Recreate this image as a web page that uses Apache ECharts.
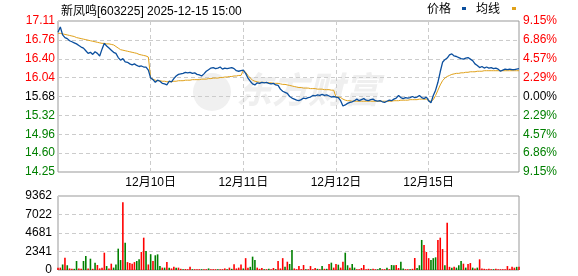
<!DOCTYPE html>
<html>
<head>
<meta charset="utf-8">
<style>
html,body{margin:0;padding:0;background:#fff;}
#chart{width:578px;height:276px;}
</style>
<script src="https://cdn.jsdelivr.net/npm/echarts@6/dist/echarts.min.js"></script>
</head>
<body>
<div id="chart"></div>
<script>
// ---- data ----
const title = '新凤鸣[603225] 2025-12-15 15:00';
const days = ['12月09日', '12月10日', '12月11日', '12月12日', '12月15日'];
const pointsPerDay = 40;
const priceTicks = ['14.25', '14.60', '14.96', '15.32', '15.68', '16.04', '16.40', '16.76', '17.11'];
const pctTicks = ['9.15%', '6.86%', '4.57%', '2.29%', '0.00%', '2.29%', '4.57%', '6.86%', '9.15%'];
const priceMin = 14.2452, priceMax = 17.1148;
const volMax = 9362;

const price = [
  16.90,17.00,16.85,16.80,16.78,16.74,16.72,16.70,16.68,16.65,16.62,16.60,16.55,16.50,16.52,16.48,16.53,16.50,16.45,16.58,
  16.69,16.64,16.60,16.56,16.52,16.50,16.42,16.37,16.40,16.34,16.33,16.30,16.28,16.30,16.27,16.25,16.26,16.24,16.24,16.18,
  16.03,16.00,15.95,15.99,15.97,15.93,15.92,15.90,15.97,15.96,16.02,16.07,16.10,16.11,16.12,16.14,16.13,16.14,16.12,16.13,
  16.10,16.09,16.07,16.11,16.16,16.19,16.22,16.23,16.21,16.22,16.24,16.20,16.22,16.21,16.22,16.23,16.21,16.17,16.16,16.17,
  16.18,16.12,16.03,15.97,15.92,15.90,15.94,15.93,15.95,15.94,15.95,15.93,15.92,15.93,15.90,15.89,15.82,15.78,15.76,15.74,
  15.68,15.65,15.63,15.61,15.60,15.62,15.65,15.64,15.66,15.67,15.70,15.69,15.71,15.70,15.72,15.70,15.71,15.69,15.67,15.68,
  15.67,15.66,15.60,15.50,15.52,15.55,15.57,15.58,15.60,15.63,15.60,15.62,15.64,15.61,15.60,15.62,15.63,15.60,15.59,15.60,
  15.58,15.57,15.59,15.61,15.60,15.63,15.65,15.70,15.66,15.64,15.66,15.65,15.66,15.68,15.66,15.67,15.70,15.66,15.64,15.67,
  15.60,15.56,15.70,15.80,15.95,16.15,16.33,16.38,16.41,16.47,16.49,16.45,16.44,16.42,16.40,16.39,16.41,16.42,16.39,16.36,
  16.30,16.27,16.23,16.25,16.22,16.24,16.22,16.23,16.21,16.22,16.20,16.16,16.18,16.20,16.19,16.20,16.19,16.19,16.20,16.21
];

const avgPrice = [
  16.88,16.88,16.87,16.86,16.85,16.84,16.83,16.82,16.80,16.79,16.78,16.77,16.76,16.75,16.74,16.73,16.72,16.71,16.70,16.69,
  16.69,16.68,16.68,16.67,16.66,16.63,16.60,16.57,16.56,16.55,16.54,16.53,16.52,16.51,16.50,16.48,16.47,16.46,16.45,16.43,
  16.03,16.01,15.99,15.98,15.98,15.97,15.97,15.96,15.96,15.96,15.97,15.97,15.98,15.98,15.98,15.99,15.99,15.99,16.00,16.00,
  16.00,16.00,16.01,16.01,16.01,16.02,16.02,16.03,16.03,16.03,16.04,16.04,16.05,16.05,16.06,16.06,16.07,16.07,16.08,16.08,
  16.18,16.14,16.08,16.03,15.99,15.97,15.96,15.95,15.95,15.95,15.94,15.94,15.94,15.93,15.93,15.93,15.92,15.91,15.91,15.90,
  15.89,15.88,15.87,15.86,15.85,15.85,15.84,15.84,15.84,15.83,15.83,15.83,15.82,15.82,15.82,15.81,15.81,15.81,15.80,15.80,
  15.67,15.67,15.66,15.63,15.61,15.60,15.60,15.59,15.59,15.59,15.59,15.59,15.59,15.59,15.59,15.59,15.59,15.59,15.59,15.59,
  15.59,15.59,15.59,15.59,15.59,15.60,15.60,15.60,15.61,15.61,15.61,15.61,15.62,15.62,15.62,15.62,15.63,15.63,15.63,15.63,
  15.60,15.59,15.62,15.70,15.80,15.90,15.98,16.03,16.06,16.08,16.10,16.11,16.12,16.12,16.13,16.13,16.14,16.14,16.15,16.15,
  16.15,16.16,16.16,16.16,16.17,16.17,16.17,16.17,16.17,16.17,16.17,16.17,16.17,16.17,16.17,16.17,16.17,16.17,16.17,16.17
];

const volume = [
  300,300,700,1560,600,200,150,150,1140,200,150,1140,1770,200,1430,150,930,630,200,300,
  2190,500,200,800,300,700,2700,1260,8560,3460,1000,900,800,1000,1140,1350,2280,4090,2400,700,
  2000,1140,1860,1980,500,300,300,1000,300,200,400,300,300,150,100,120,100,400,100,100,
  100,100,100,100,100,200,100,100,100,100,100,100,200,100,300,150,720,200,300,700,
  200,1500,300,400,1690,1260,300,150,250,100,100,150,100,250,100,1140,200,1500,400,1050,
  760,2530,200,100,500,100,630,100,100,500,100,250,150,100,500,150,150,760,930,300,
  760,670,300,1050,2190,600,300,760,300,100,100,250,630,100,150,100,150,100,100,250,
  100,100,300,100,630,600,630,250,1050,200,100,100,100,150,1520,250,600,3800,3160,2280,
  1500,1260,1500,1600,3800,4090,2650,600,5990,400,300,400,300,600,1140,800,300,760,880,300,
  200,300,1350,200,150,100,150,100,100,150,100,100,100,100,500,150,400,300,400,400
];

// r = red (up) bar, g = green (down) bar
const volDir = (
  'rrgrgrrggrrggrgrgrrr' + 'rgrrggggrgrrrrggrrgr' +
  'grgggrgrgrrgrrgrrrgr' + 'rrgrrgrrrgrrrgrgrrrr' +
  'grrgggrrrgrgrrgrrrgr' + 'ggrrrrrgrrrrgrgrgrgr' +
  'rgrrggrggrrrrrrgrrgg' + 'rrgrggrrggrrgrrgggrr' +
  'rgggrrrgrrgrgggrgrrg' + 'rgrrrrrrgrrrrrrrrrgr'
).split('');

// ---- built from the arrays above ----
const categories = [];
days.forEach(d => { for (let k = 0; k < pointsPerDay; k++) categories.push(d + '#' + k); });

const RED = '#ff0000', GREEN = '#008000';
const labelFont = 'Liberation Sans, Arial, Noto Sans CJK SC, sans-serif';

function leftColor(i) { return i > 4 ? RED : (i === 4 ? '#000' : GREEN); }

const chart = echarts.init(document.getElementById('chart'), null, { renderer: 'canvas' });

const option = {
  animation: false,
  backgroundColor: '#fff',
  title: {
    text: title, left: 56, top: 1,
    textStyle: { fontSize: 12, fontWeight: 'normal', color: '#000', fontFamily: labelFont }
  },
  graphic: [
    // watermark
    { type: 'circle', shape: { cx: 212, cy: 92, r: 19 }, style: { fill: '#f0f0f0' }, z: 0, silent: true },
    { type: 'text', left: 236, top: 71, z: 0, silent: true,
      style: { text: '东方财富', fill: '#efefef', font: 'italic bold 36px "Noto Sans CJK SC"' } },
    // legend
    { type: 'text', left: 427, top: 2, style: { text: '价格', fill: '#000', font: '12px "Noto Sans CJK SC"' } },
    { type: 'rect', shape: { x: 462, y: 7, width: 4, height: 3 }, style: { fill: '#0b4f9e' } },
    { type: 'text', left: 476, top: 2, style: { text: '均线', fill: '#000', font: '12px "Noto Sans CJK SC"' } },
    { type: 'rect', shape: { x: 512, y: 7, width: 4, height: 3 }, style: { fill: '#e0a11a' } }
  ],
  grid: [
    { left: 58, right: 59, top: 21, height: 151, show: true, borderColor: '#999', borderWidth: 1, backgroundColor: 'transparent' },
    { left: 58, right: 59, top: 196, height: 74, show: true, borderColor: '#999', borderWidth: 1, backgroundColor: 'transparent' }
  ],
  xAxis: [
    {
      type: 'category', gridIndex: 0, data: categories, boundaryGap: false,
      axisLine: { show: false }, axisTick: { show: false },
      axisLabel: {
        interval: (i) => i > 0 && i % pointsPerDay === 0,
        formatter: (v) => v.split('#')[0],
        color: '#000', fontSize: 12, margin: 5, fontFamily: labelFont
      },
      splitLine: { show: true, interval: (i) => i > 0 && i % pointsPerDay === 0,
        lineStyle: { color: '#ccc', type: [4, 3], width: 1 } }
    },
    {
      type: 'category', gridIndex: 1, data: categories, boundaryGap: false,
      axisLine: { show: false }, axisTick: { show: false }, axisLabel: { show: false },
      splitLine: { show: false }
    }
  ],
  yAxis: [
    { type: 'value', gridIndex: 0, min: priceMin, max: priceMax, show: false, splitLine: { show: false } },
    {
      type: 'value', gridIndex: 0, position: 'left', min: 0, max: 8, interval: 1,
      axisLine: { show: false }, axisTick: { show: false },
      axisLabel: {
        margin: 3, fontSize: 12, fontFamily: labelFont,
        formatter: (v) => priceTicks[Math.round(v)],
        color: (v) => leftColor(Math.round(Number(v)))
      },
      splitLine: { show: true, lineStyle: { color: '#ccc', type: [4, 3], width: 1 } }
    },
    {
      type: 'value', gridIndex: 0, position: 'right', min: 0, max: 8, interval: 1,
      axisLine: { show: false }, axisTick: { show: false },
      axisLabel: {
        margin: 4, fontSize: 12, fontFamily: labelFont,
        formatter: (v) => pctTicks[Math.round(v)],
        color: (v) => leftColor(Math.round(Number(v)))
      },
      splitLine: { show: false }
    },
    {
      type: 'value', gridIndex: 1, min: 0, max: volMax, interval: volMax / 4,
      axisLine: { show: false }, axisTick: { show: false },
      axisLabel: { margin: 6, fontSize: 12, color: '#000', fontFamily: labelFont,
        formatter: (v) => String(Math.round(v)) },
      splitLine: { show: true, lineStyle: { color: '#ccc', type: [4, 3], width: 1 } }
    }
  ],
  series: [
    {
      name: '均线', type: 'line', xAxisIndex: 0, yAxisIndex: 0, data: avgPrice,
      showSymbol: false, symbol: 'none', lineStyle: { color: '#e0a11a', width: 1 }, z: 3
    },
    {
      name: '价格', type: 'line', xAxisIndex: 0, yAxisIndex: 0, data: price,
      showSymbol: false, symbol: 'none', lineStyle: { color: '#0b4f9e', width: 1.3 }, z: 4
    },
    {
      name: '成交量', type: 'bar', xAxisIndex: 1, yAxisIndex: 3, data: volume,
      barWidth: 1.6,
      itemStyle: { color: (p) => volDir[p.dataIndex] === 'r' ? RED : GREEN }
    }
  ]
};
chart.setOption(option);
</script>
</body>
</html>
